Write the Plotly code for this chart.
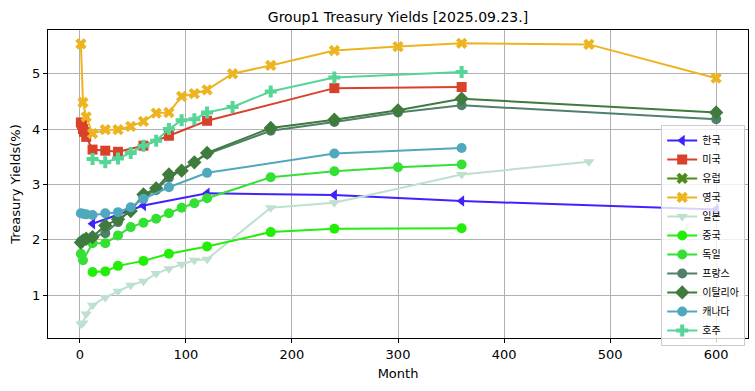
import plotly.graph_objects as go

# ---- data (Month, yield %) ----
names = ["한국", "미국", "유럽", "영국", "일본", "중국", "독일", "프랑스", "이탈리아", "캐나다", "호주"]

kr_x = [12, 60, 120, 240, 360, 600]
kr_y = [2.29, 2.62, 2.84, 2.81, 2.70, 2.55]

us_x = [1, 2, 3, 4, 6, 12, 24, 36, 60, 84, 120, 240, 360]
us_y = [4.12, 4.08, 4.00, 3.95, 3.86, 3.63, 3.61, 3.59, 3.70, 3.88, 4.15, 4.74, 4.76]

eu_x = [None]
eu_y = [None]

uk_x = [1, 3, 6, 12, 24, 36, 48, 60, 72, 84, 96, 108, 120, 144, 180, 240, 300, 360, 480, 600]
uk_y = [5.54, 4.48, 4.22, 3.92, 3.99, 3.99, 4.05, 4.14, 4.29, 4.30, 4.59, 4.64, 4.71, 5.00, 5.15, 5.42, 5.49, 5.55, 5.53, 4.92]

jp_x = [1, 3, 6, 12, 24, 36, 48, 60, 72, 84, 96, 108, 120, 180, 240, 360, 480]
jp_y = [0.48, 0.50, 0.66, 0.82, 0.96, 1.07, 1.18, 1.25, 1.39, 1.48, 1.56, 1.63, 1.65, 2.58, 2.67, 3.18, 3.41]

cn_x = [12, 24, 36, 60, 84, 120, 180, 240, 360]
cn_y = [1.42, 1.43, 1.53, 1.62, 1.75, 1.88, 2.14, 2.20, 2.21]

de_x = [1, 3, 12, 24, 36, 48, 60, 72, 84, 96, 108, 120, 180, 240, 300, 360]
de_y = [1.75, 1.63, 1.94, 1.94, 2.08, 2.23, 2.31, 2.38, 2.48, 2.58, 2.66, 2.75, 3.13, 3.24, 3.31, 3.36]

fr_x = [1, 3, 6, 12, 24, 36, 48, 60, 72, 84, 120, 180, 240, 300, 360, 600]
fr_y = [1.97, 1.99, 2.02, 2.05, 2.12, 2.32, 2.55, 2.78, 2.90, 3.12, 3.55, 3.97, 4.13, 4.30, 4.43, 4.18]

it_x = [1, 3, 6, 12, 24, 36, 48, 60, 72, 84, 96, 108, 120, 180, 240, 300, 360, 600]
it_y = [1.95, 1.99, 2.02, 2.05, 2.26, 2.37, 2.52, 2.82, 2.93, 3.18, 3.25, 3.40, 3.57, 4.02, 4.17, 4.34, 4.55, 4.30]

ca_x = [1, 3, 6, 12, 24, 36, 48, 60, 84, 120, 240, 360]
ca_y = [2.48, 2.47, 2.46, 2.45, 2.48, 2.50, 2.59, 2.74, 2.95, 3.21, 3.56, 3.66]

au_x = [12, 24, 36, 48, 60, 72, 84, 96, 108, 120, 144, 180, 240, 360]
au_y = [3.46, 3.40, 3.47, 3.57, 3.70, 3.79, 4.00, 4.16, 4.18, 4.30, 4.40, 4.68, 4.93, 5.03]

xs = [kr_x, us_x, eu_x, uk_x, jp_x, cn_x, de_x, fr_x, it_x, ca_x, au_x]
ys = [kr_y, us_y, eu_y, uk_y, jp_y, cn_y, de_y, fr_y, it_y, ca_y, au_y]

colors = ["#4022FF", "#D9412B", "#4E8C1A", "#EDB41F", "#BDE0CF", "#22EE0A",
          "#35E035", "#4F8068", "#3E7B3C", "#4FA8BD", "#55D696"]
symbols = ["triangle-left", "square", "x", "x", "triangle-down", "circle",
           "circle", "circle", "diamond", "circle", "cross"]
sizes = [10, 10, 10, 10, 10, 10, 10, 10, 11, 10, 10]

fig = go.Figure()
for n, x, y, c, s, sz in zip(names, xs, ys, colors, symbols, sizes):
    fig.add_trace(go.Scatter(
        x=x, y=y, name=n, mode="lines+markers",
        line=dict(color=c, width=2),
        marker=dict(symbol=s, size=sz, color=c, line=dict(width=0)),
        showlegend=True,
    ))

axis_common = dict(
    showgrid=True, gridcolor="#b0b0b0", gridwidth=1,
    showline=True, linecolor="black", linewidth=1, mirror=True,
    ticks="outside", ticklen=4, tickcolor="black",
    zeroline=False, automargin=False,
    tickfont=dict(family="DejaVu Sans", size=13, color="black"),
)

fig.update_layout(
    width=755, height=391,
    paper_bgcolor="white", plot_bgcolor="white",
    margin=dict(l=48, r=7, t=30, b=53, autoexpand=False),
    title=dict(text="Group1 Treasury Yields [2025.09.23.]", x=0.5, xanchor="center",
               xref="paper",
               y=1 - 17 / 391, yanchor="middle", automargin=False,
               font=dict(family="DejaVu Sans", size=14, color="black")),
    xaxis=dict(range=[-30, 630], tickvals=[0, 100, 200, 300, 400, 500, 600],
               title=dict(text="Month", font=dict(family="DejaVu Sans", size=13, color="black"), standoff=8),
               **axis_common),
    yaxis=dict(range=[0.227, 5.79], tickvals=[1, 2, 3, 4, 5],
               title=dict(text="Treasury Yields(%)", font=dict(family="DejaVu Sans", size=13, color="black"), standoff=8),
               **axis_common),
    legend=dict(x=0.876, y=0.333, xanchor="left", yanchor="middle",
                bgcolor="rgba(255,255,255,0.8)", bordercolor="#cccccc", borderwidth=1,
                font=dict(family="Noto Sans CJK KR", size=10, color="black"),
                itemwidth=30, tracegroupgap=0),
    showlegend=True,
)

fig.write_html("out.html", config={"displayModeBar": False},
               post_script="document.body.style.margin='0';")
